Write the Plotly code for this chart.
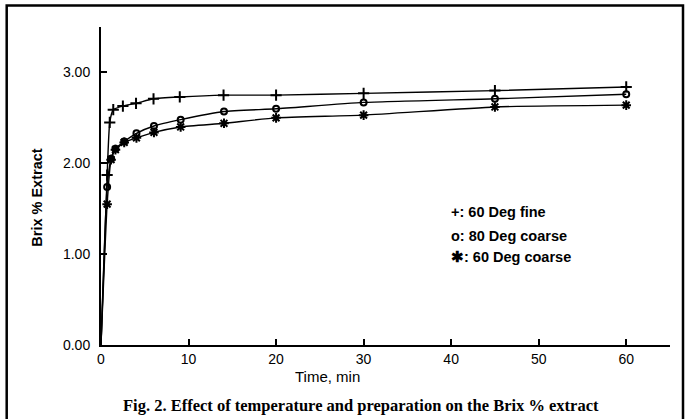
import plotly.graph_objects as go

# Data
time_fine = [0.7, 1.0, 1.4, 2.5, 4.0, 6.0, 9.0, 14.0, 20.0, 30.0, 45.0, 60.0]
brix_60_fine = [1.87, 2.45, 2.59, 2.63, 2.66, 2.71, 2.73, 2.75, 2.75, 2.77, 2.80, 2.84]

time_coarse = [0.7, 1.15, 1.65, 2.65, 4.05, 6.05, 9.1, 14.05, 20.0, 30.0, 45.0, 60.0]
brix_80_coarse = [1.74, 2.05, 2.16, 2.24, 2.33, 2.41, 2.48, 2.57, 2.60, 2.67, 2.71, 2.76]
brix_60_coarse = [1.55, 2.04, 2.15, 2.23, 2.28, 2.34, 2.40, 2.44, 2.50, 2.53, 2.62, 2.64]

series = [
    ("60 Deg fine", time_fine, brix_60_fine, "cross-thin-open", "+"),
    ("80 Deg coarse", time_coarse, brix_80_coarse, "circle-open", "o"),
    ("60 Deg coarse", time_coarse, brix_60_coarse, "asterisk-open", "✱"),
]

x_ticks = [0, 10, 20, 30, 40, 50, 60]
y_ticks = [0, 1, 2, 3]
y_tick_labels = ["0.00", "1.00", "2.00", "3.00"]

FONT = "Liberation Sans"

# plot area in pixels
L, R, T, B = 101, 670, 26.5, 345
PW, PH = R - L, B - T


def px(xp):
    return (xp - L) / PW


def py(yp):
    return (B - yp) / PH


fig = go.Figure()
for name, t, v, sym, ch in series:
    fig.add_trace(go.Scatter(
        x=[0] + t, y=[0] + v, mode="lines",
        line=dict(color="black", width=1.4, shape="spline", smoothing=0.5),
        showlegend=False, hoverinfo="skip"))
    fig.add_trace(go.Scatter(
        x=t, y=v, mode="markers", name=name,
        marker=dict(symbol=sym, size=8 if sym != "circle-open" else 6,
                    color="black", line=dict(color="black", width=2)),
        showlegend=False))

legend_y = [211.7, 235.7, 256.7]
for (name, t, v, sym, ch), yy in zip(series, legend_y):
    fig.add_annotation(
        xref="paper", yref="paper", x=px(449), y=py(yy),
        xanchor="left", yanchor="middle", showarrow=False,
        text=f"<b>{ch}: {name}</b>",
        font=dict(family=FONT, size=14.5, color="black"))

fig.add_annotation(
    xref="paper", yref="paper", x=px(327), y=py(376.7),
    xanchor="center", yanchor="middle", showarrow=False,
    text="Time, min", font=dict(family=FONT, size=15, color="black"))

fig.add_annotation(
    xref="paper", yref="paper", x=px(37), y=py(197.5),
    xanchor="center", yanchor="middle", showarrow=False, textangle=-90,
    text="<b>Brix % Extract</b>", font=dict(family=FONT, size=14.5, color="black"))

fig.add_annotation(
    xref="paper", yref="paper", x=px(361), y=py(406),
    xanchor="center", yanchor="middle", showarrow=False,
    text="<b>Fig. 2. Effect of temperature and preparation on the Brix % extract</b>",
    font=dict(family="Liberation Serif", size=16.5, color="black"))

# outer frame
fig.add_shape(type="rect", xref="paper", yref="paper",
              x0=px(6.7), x1=px(683), y0=py(440), y1=py(5),
              line=dict(color="black", width=2.5))

fig.update_layout(
    width=686, height=419,
    margin=dict(l=L, r=686 - R, t=T, b=419 - B),
    paper_bgcolor="white", plot_bgcolor="white",
    font=dict(family=FONT, color="black"),
)
fig.update_xaxes(
    range=[0, 65], tickvals=x_ticks, ticks="inside", ticklen=6, tickwidth=1.5,
    tickcolor="black", showline=True, linecolor="black", linewidth=2,
    showgrid=False, zeroline=False,
    tickfont=dict(family=FONT, size=14, color="black"))
fig.update_yaxes(
    range=[0, 3.5], tickvals=y_ticks, ticktext=y_tick_labels,
    ticks="inside", ticklen=6, tickwidth=1.5, ticklabelstandoff=6,
    tickcolor="black", showline=True, linecolor="black", linewidth=2,
    showgrid=False, zeroline=False,
    tickfont=dict(family=FONT, size=14, color="black"))

fig.write_html("out.html", config={"displayModeBar": False},
               post_script="document.body.style.margin='0px';")
